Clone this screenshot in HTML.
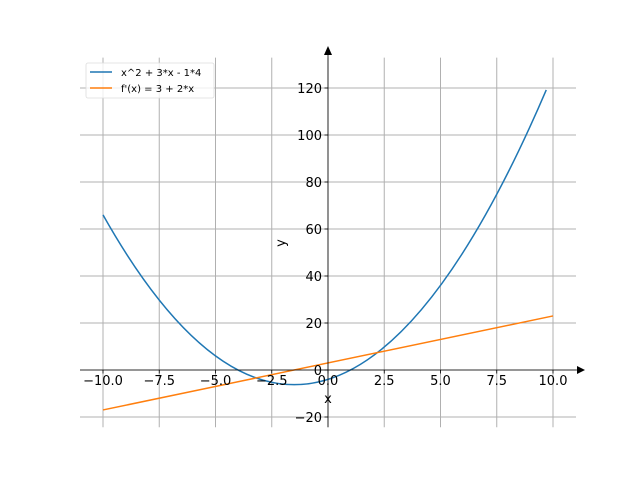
<!DOCTYPE html>
<html><head><style>body{margin:0;background:#fff}svg{display:block}text{font-family:"DejaVu Sans","Liberation Sans",sans-serif;font-size:13px;fill:#000}</style></head><body>
<svg width="640" height="480" viewBox="0 0 640 480">
<g stroke="#b0b0b0" stroke-width="1">
<line x1="103" y1="57.6" x2="103" y2="427.2"/><line x1="159.25" y1="57.6" x2="159.25" y2="427.2"/><line x1="215.5" y1="57.6" x2="215.5" y2="427.2"/><line x1="271.75" y1="57.6" x2="271.75" y2="427.2"/><line x1="328" y1="57.6" x2="328" y2="427.2"/><line x1="384.25" y1="57.6" x2="384.25" y2="427.2"/><line x1="440.5" y1="57.6" x2="440.5" y2="427.2"/><line x1="496.75" y1="57.6" x2="496.75" y2="427.2"/><line x1="553" y1="57.6" x2="553" y2="427.2"/>
<line x1="80" y1="417" x2="576" y2="417"/><line x1="80" y1="370" x2="576" y2="370"/><line x1="80" y1="323" x2="576" y2="323"/><line x1="80" y1="276" x2="576" y2="276"/><line x1="80" y1="229" x2="576" y2="229"/><line x1="80" y1="182" x2="576" y2="182"/><line x1="80" y1="135" x2="576" y2="135"/><line x1="80" y1="88" x2="576" y2="88"/>
</g>
<path d="M103 214.9 Q324.6 608.4 546.25 89.9" fill="none" stroke="#1f77b4" stroke-width="1.5"/>
<line x1="103" y1="409.95" x2="553" y2="315.95" stroke="#ff7f0e" stroke-width="1.5"/>
<g stroke="#000" stroke-width="0.8">
<line x1="80" y1="370" x2="578" y2="370"/><line x1="328" y1="427.2" x2="328" y2="52"/>
<g stroke-width="0.8"><line x1="103" y1="370" x2="103" y2="373.5"/><line x1="159.25" y1="370" x2="159.25" y2="373.5"/><line x1="215.5" y1="370" x2="215.5" y2="373.5"/><line x1="271.75" y1="370" x2="271.75" y2="373.5"/><line x1="328" y1="370" x2="328" y2="373.5"/><line x1="384.25" y1="370" x2="384.25" y2="373.5"/><line x1="440.5" y1="370" x2="440.5" y2="373.5"/><line x1="496.75" y1="370" x2="496.75" y2="373.5"/><line x1="553" y1="370" x2="553" y2="373.5"/>
<line x1="324.5" y1="417" x2="328" y2="417"/><line x1="324.5" y1="370" x2="328" y2="370"/><line x1="324.5" y1="323" x2="328" y2="323"/><line x1="324.5" y1="276" x2="328" y2="276"/><line x1="324.5" y1="229" x2="328" y2="229"/><line x1="324.5" y1="182" x2="328" y2="182"/><line x1="324.5" y1="135" x2="328" y2="135"/><line x1="324.5" y1="88" x2="328" y2="88"/></g>
</g>
<polygon points="585,370 577,366 577,374" fill="#000"/>
<polygon points="328,46 324,55 332,55" fill="#000"/>
<g text-anchor="middle">
<text x="103" y="385">−10.0</text><text x="159.25" y="385">−7.5</text><text x="215.5" y="385">−5.0</text><text x="271.75" y="385">−2.5</text><text x="328" y="385">0.0</text><text x="384.25" y="385">2.5</text><text x="440.5" y="385">5.0</text><text x="496.75" y="385">7.5</text><text x="553" y="385">10.0</text>
<text x="328" y="403">x</text>
<text x="285" y="243" transform="rotate(-90 285 243)">y</text>
</g>
<g text-anchor="end">
<text x="322" y="422">−20</text><text x="322" y="375">0</text><text x="322" y="328">20</text><text x="322" y="281">40</text><text x="322" y="234">60</text><text x="322" y="187">80</text><text x="322" y="140">100</text><text x="322" y="93">120</text>
</g>
<rect x="86" y="63" width="128" height="35" fill="#fff" fill-opacity="0.8" stroke="#ddd" stroke-width="0.8" rx="2"/>
<line x1="90" y1="72" x2="112" y2="72" stroke="#1f77b4" stroke-width="1.5"/>
<line x1="90" y1="88" x2="112" y2="88" stroke="#ff7f0e" stroke-width="1.5"/>
<text x="121" y="76" style="font-size:10px">x^2 + 3*x - 1*4</text>
<text x="121" y="92" style="font-size:10px">f'(x) = 3 + 2*x</text>
</svg>
</body></html>
